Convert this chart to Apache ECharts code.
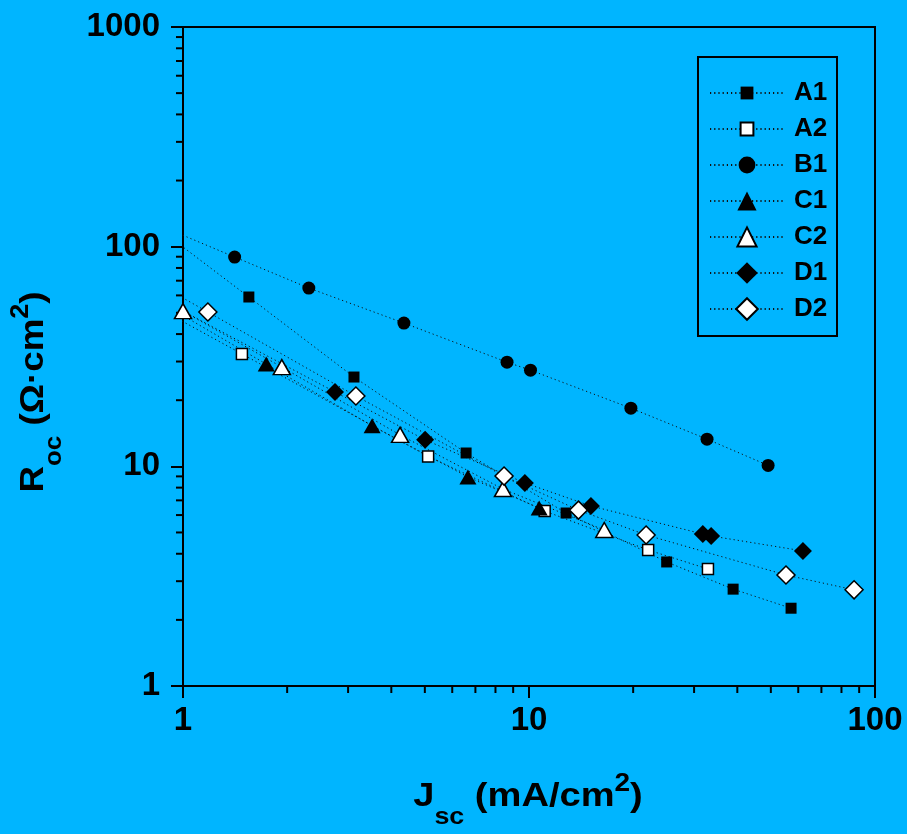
<!DOCTYPE html>
<html>
<head>
<meta charset="utf-8">
<title>Roc vs Jsc</title>
<style>
  html, body { margin: 0; padding: 0; background: #00b5ff; }
  #chart { width: 907px; height: 834px; }
</style>
</head>
<body>
<div id="chart"></div>
<script src="https://cdn.jsdelivr.net/npm/echarts@6/dist/echarts.min.js"></script>
<script>
  // data (first point of most series lies just left of x = 1, so only its line shows)
  const a1Jsc = [0.9, 1.55, 3.12, 6.58, 12.8, 25.0, 38.9, 57.2];
  const a1Roc = [113, 59.0, 25.5, 11.5, 6.13, 3.67, 2.76, 2.26];

  const a2Jsc = [0.9, 1.48, 5.11, 11.1, 22.1, 32.9];
  const a2Roc = [49.9, 32.5, 11.1, 6.26, 4.16, 3.41];

  const b1Jsc = [0.9, 1.41, 2.31, 4.35, 8.64, 10.1, 19.7, 32.7, 49.1];
  const b1Roc = [120.8, 89.7, 64.8, 44.9, 29.8, 27.4, 18.4, 13.3, 10.1];

  const c1Jsc = [0.9, 1.74, 3.52, 6.66, 10.7];
  const c1Roc = [53.5, 29.2, 15.3, 8.94, 6.46];

  const c2Jsc = [1.0, 1.93, 4.24, 8.41, 16.5];
  const c2Roc = [50.9, 28.3, 13.9, 7.88, 5.13];

  const d1Jsc = [0.9, 2.75, 5.01, 9.73, 15.1, 31.8, 33.6, 61.9];
  const d1Roc = [55.6, 21.8, 13.2, 8.40, 6.60, 4.92, 4.82, 4.12];

  const d2Jsc = [0.9, 1.18, 3.16, 8.47, 13.9, 21.8, 55.3, 87.0];
  const d2Roc = [64.1, 50.4, 20.9, 9.03, 6.32, 4.87, 3.20, 2.74];

  const xMinorTicks = [2, 3, 4, 5, 6, 7, 8, 9, 20, 30, 40, 50, 60, 70, 80, 90];
  const yMinorTicks = [2, 3, 4, 5, 6, 7, 8, 9, 20, 30, 40, 50, 60, 70, 80, 90,
    200, 300, 400, 500, 600, 700, 800, 900];

  const FONT = "'Liberation Sans', Arial, sans-serif";
  const BG = '#00b5ff';

  const pairs = (xs, ys) => xs.map((x, i) => [x, ys[i]]);

  // name, x, y, symbol, plot size, filled, legend icon height
  const seriesDefs = [
    ['A1', a1Jsc, a1Roc, 'rect', 11, true, 16],
    ['A2', a2Jsc, a2Roc, 'rect', 11, false, 16],
    ['B1', b1Jsc, b1Roc, 'circle', 13, true, 21],
    ['C1', c1Jsc, c1Roc, 'triangle', [17, 15], true, 24],
    ['C2', c2Jsc, c2Roc, 'triangle', [17, 15], false, 24],
    ['D1', d1Jsc, d1Roc, 'diamond', 18, true, 27],
    ['D2', d2Jsc, d2Roc, 'diamond', 18, false, 27]
  ];

  const chart = echarts.init(document.getElementById('chart'));

  const axisCommon = {
    type: 'log',
    logBase: 10,
    axisLine: { show: true, onZero: false, lineStyle: { color: '#000', width: 2 } },
    axisTick: { show: true, inside: false, length: 12, lineStyle: { color: '#000', width: 2 } },
    splitLine: { show: false },
    minorTick: { show: false }
  };

  const labelStyle = {
    color: '#000',
    fontFamily: FONT,
    fontWeight: 'bold',
    fontSize: 33,
    formatter: v => String(Math.round(v))
  };

  chart.setOption({
    backgroundColor: BG,
    animation: false,
    grid: {
      left: 183,
      right: 32,
      top: 27,
      bottom: 148,
      show: true,
      borderColor: '#000',
      borderWidth: 2
    },
    xAxis: {
      ...axisCommon,
      min: 1,
      max: 100,
      splitNumber: 2,
      axisLabel: { ...labelStyle, margin: 18 }
    },
    yAxis: {
      ...axisCommon,
      min: 1,
      max: 1000,
      splitNumber: 3,
      axisLabel: { ...labelStyle, margin: 23 }
    },
    legend: seriesDefs.map(([name, , , , , , iconH], i) => ({
      data: [name],
      left: 709,
      top: 93 + i * 36 - 15,
      padding: 0,
      itemWidth: 74,
      itemHeight: iconH,
      selectedMode: false,
      textStyle: {
        color: '#000',
        fontFamily: FONT,
        fontWeight: 'bold',
        fontSize: 26,
        lineHeight: 30,
        padding: [0, 0, 0, 5]
      }
    })),
    series: seriesDefs.map(([name, xs, ys, symbol, size, filled]) => ({
      name,
      type: 'line',
      data: pairs(xs, ys),
      symbol,
      symbolSize: size,
      showAllSymbol: true,
      clip: true,
      lineStyle: { color: '#111', width: 1, type: [1.2, 3] },
      itemStyle: {
        color: filled ? '#000' : '#fff',
        borderColor: '#000',
        borderWidth: filled ? 0 : 1.5
      },
      emphasis: { disabled: true }
    }))
  });

  // minor ticks of the log axes, placed through the chart's own scales
  const minorLines = [];
  xMinorTicks.forEach(v => {
    const px = chart.convertToPixel({ xAxisIndex: 0 }, v);
    minorLines.push({
      type: 'line',
      shape: { x1: px, y1: 686, x2: px, y2: 693 },
      style: { stroke: '#000', lineWidth: 2 }
    });
  });
  yMinorTicks.forEach(v => {
    const py = chart.convertToPixel({ yAxisIndex: 0 }, v);
    minorLines.push({
      type: 'line',
      shape: { x1: 176, y1: py, x2: 183, y2: py },
      style: { stroke: '#000', lineWidth: 2 }
    });
  });

  // titles are drawn a little wider than plain Arial, like the original
  const titleRich = {
    m: { fontFamily: FONT, fontWeight: 'bold', fontSize: 34, fill: '#000' },
    sub: { fontFamily: FONT, fontWeight: 'bold', fontSize: 24, fill: '#000', padding: [40, 0, 0, 0] },
    sup: { fontFamily: FONT, fontWeight: 'bold', fontSize: 25, fill: '#000', padding: [0, 0, 26, 0] }
  };

  chart.setOption({
    graphic: [
      ...minorLines,
      {
        type: 'rect',
        shape: { x: 698, y: 57, width: 139, height: 279 },
        style: { fill: 'none', stroke: '#000', lineWidth: 2 },
        z: 10
      },
      {
        type: 'text',
        x: 528,
        y: 797,
        scaleX: 1.12,
        style: {
          text: '{m|J}{sub|sc}{m| (mA/cm}{sup|2}{m|)}',
          rich: titleRich,
          align: 'center',
          verticalAlign: 'middle'
        }
      },
      {
        type: 'text',
        x: 34,
        y: 392,
        rotation: Math.PI / 2,
        scaleX: 1.08,
        style: {
          text: '{m|R}{sub|oc}{m| (\u03A9\u00B7cm}{sup|2}{m|)}',
          rich: titleRich,
          align: 'center',
          verticalAlign: 'middle'
        }
      }
    ]
  });
</script>
</body>
</html>
